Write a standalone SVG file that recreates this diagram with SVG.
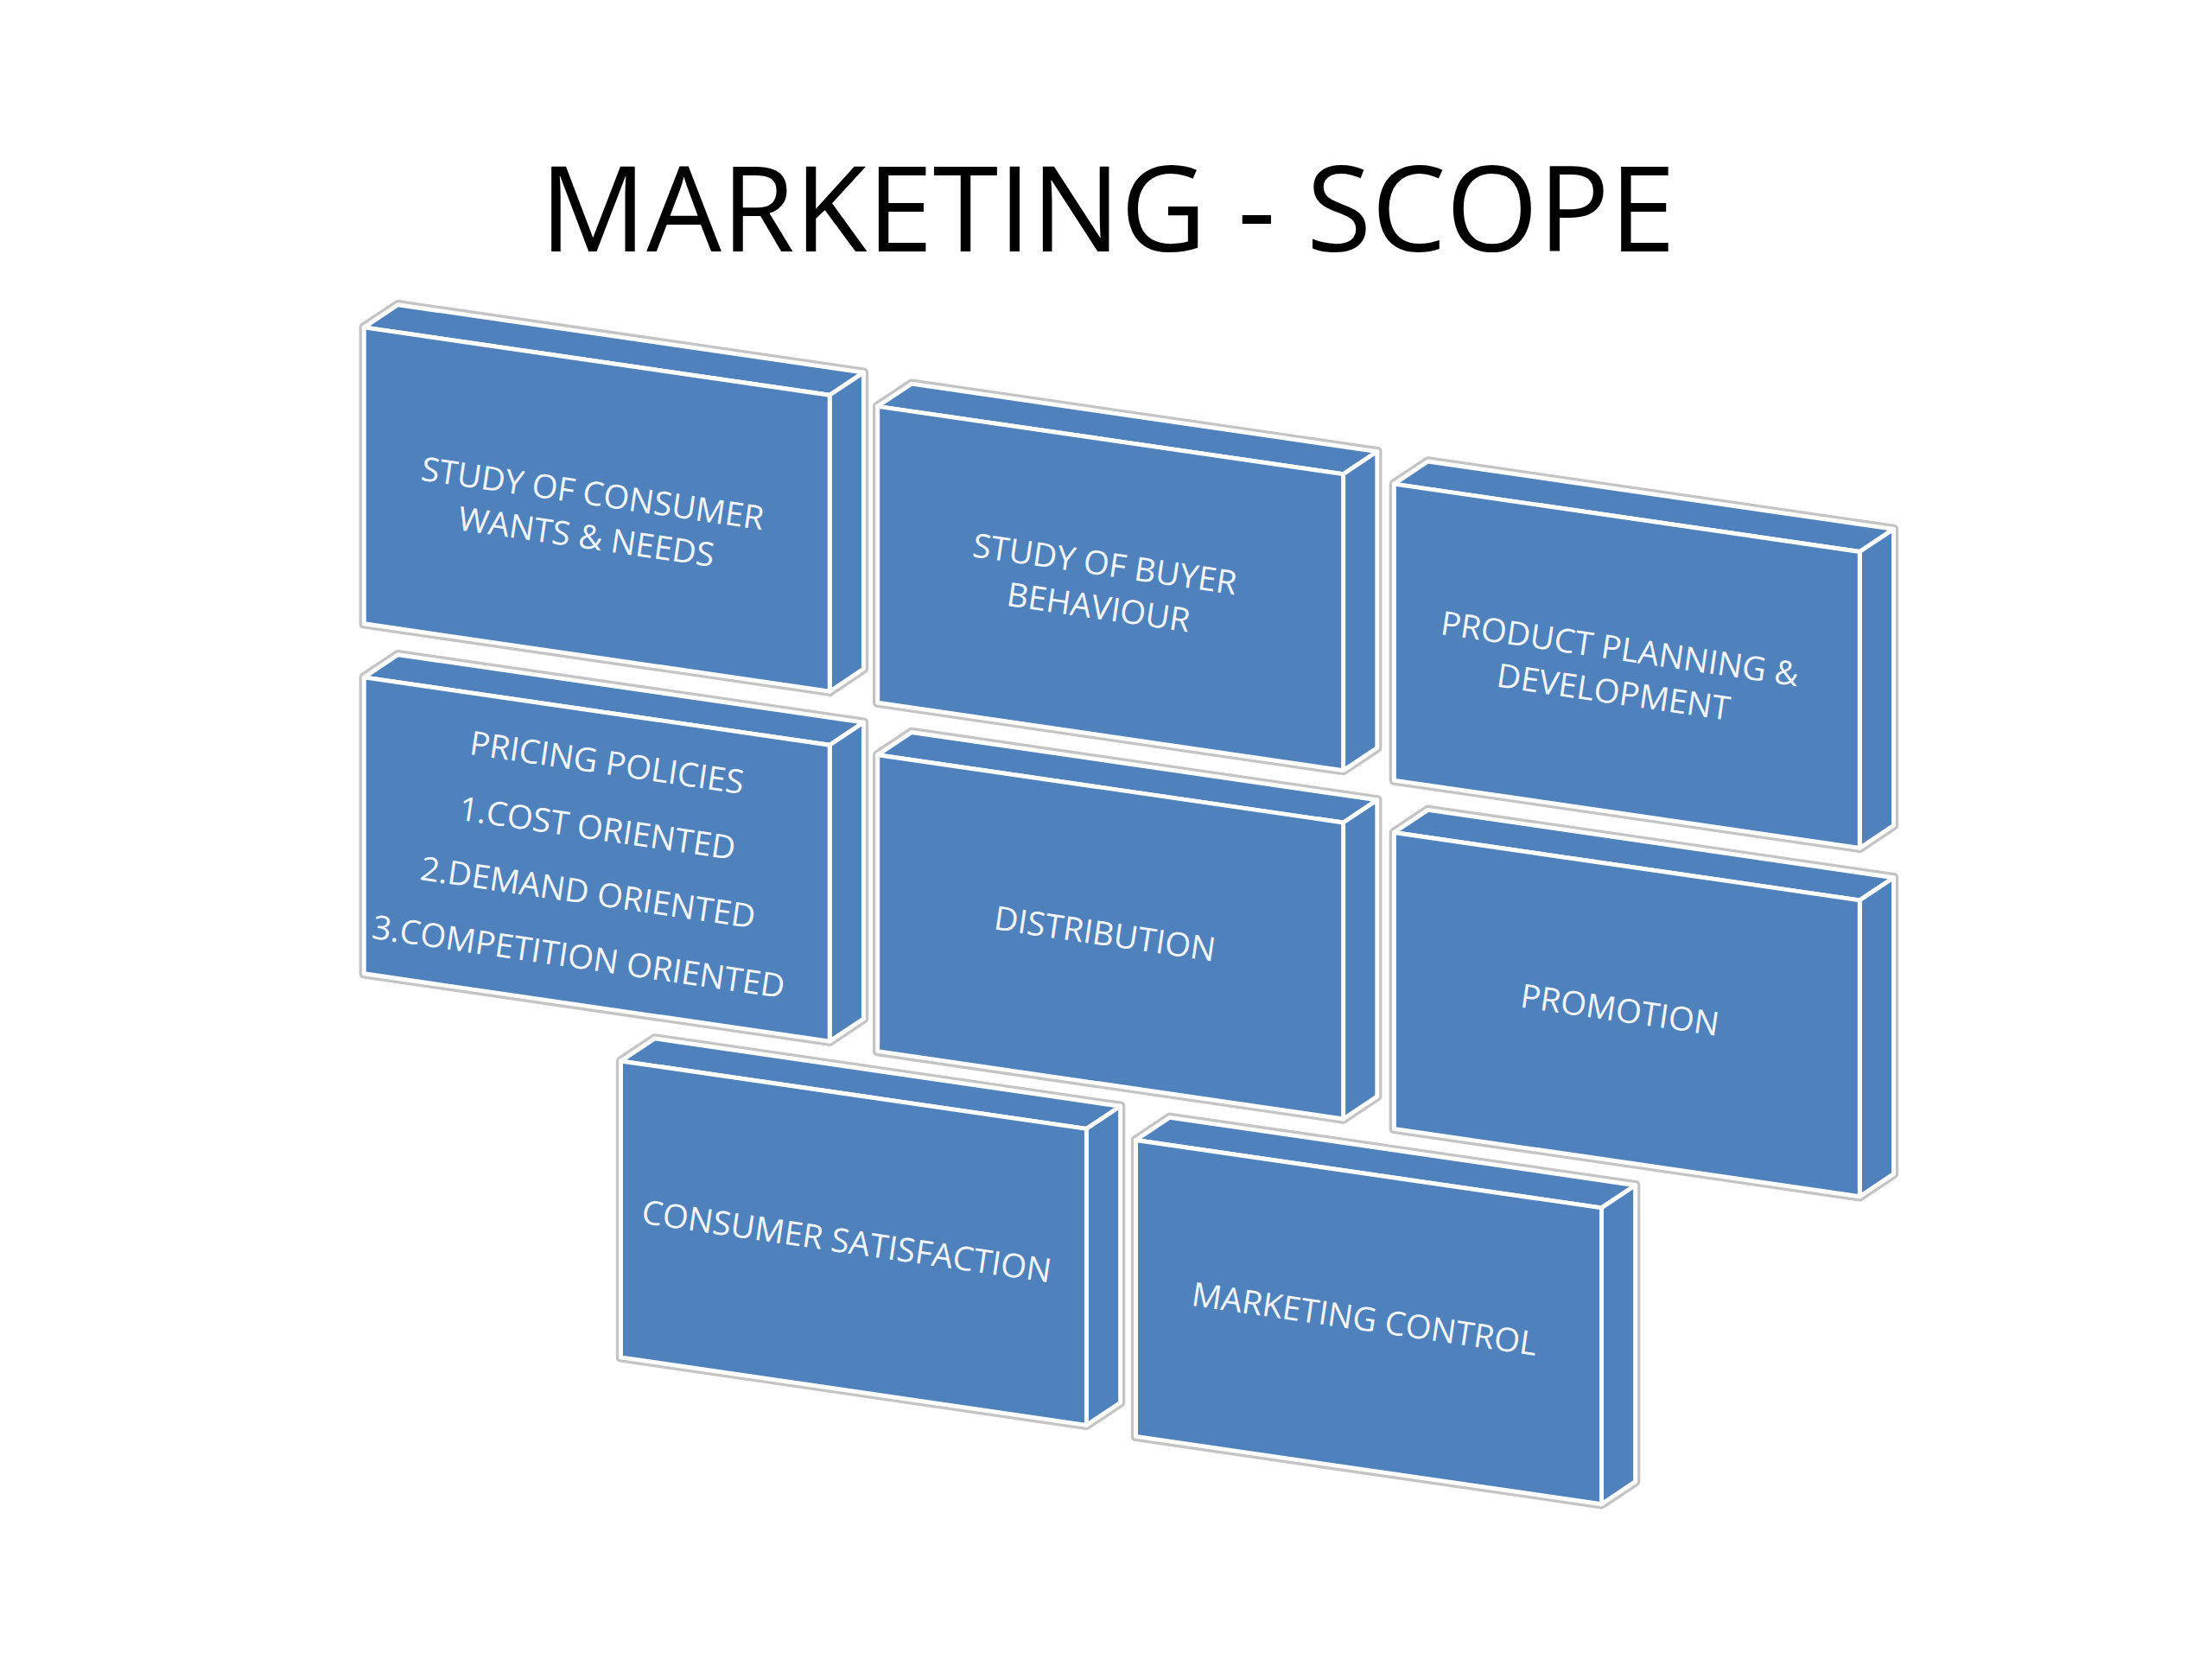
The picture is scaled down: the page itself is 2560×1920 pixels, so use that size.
<svg xmlns="http://www.w3.org/2000/svg" width="2560" height="1920" viewBox="0 0 2560 1920">
<style>
.f{fill:#4f81bd;stroke:#fff;stroke-width:3;stroke-linejoin:round}
.o{fill:none;stroke:#c4c4c4;stroke-width:7;stroke-linejoin:round}
.t{font-family:"Open Sans",sans-serif;font-size:23.5px;fill:#f2f5fa;text-anchor:middle}
</style>
<defs>
<g id="box">
<path class="o" d="M0,0 L24,-16 L354,32 L354,242 L330,258 L0,210 Z"/>
<path class="f" d="M0,0 L24,-16 L354,32 L330,48 Z"/>
<path class="f" d="M330,48 L354,32 L354,242 L330,258 Z"/>
<path class="f" d="M0,0 L330,48 L330,258 L0,210 Z"/>
</g>
</defs>
<rect width="2560" height="1920" fill="#fff"/>
<g transform="scale(1.633)">
<text x="785" y="178" font-family="Open Sans, sans-serif" font-size="84" text-anchor="middle" fill="#000">MARKETING - SCOPE</text>
<g id="n1" transform="translate(258,232)"><use href="#box"/><text class="t" transform="rotate(8.3 162 118)"><tspan x="162" y="126">STUDY OF CONSUMER</tspan><tspan x="162" y="157">WANTS &amp; NEEDS</tspan></text></g>
<g id="n2" transform="translate(622,288)"><use href="#box"/><text class="t" transform="rotate(8.3 161 112)"><tspan x="161" y="120">STUDY OF BUYER</tspan><tspan x="161" y="151">BEHAVIOUR</tspan></text></g>
<g id="n3" transform="translate(988,343)"><use href="#box"/><text class="t" transform="rotate(8.3 160 117)"><tspan x="160" y="125">PRODUCT PLANNING &amp;</tspan><tspan x="160" y="156">DEVELOPMENT</tspan></text></g>
<g id="n4" transform="translate(258,480)"><use href="#box"/><text class="t" transform="rotate(8.3 162 130)"><tspan x="162" y="68">PRICING POLICIES</tspan><tspan x="162" y="115">1.COST ORIENTED</tspan><tspan x="162" y="161">2.DEMAND ORIENTED</tspan><tspan x="162" y="207">3.COMPETITION ORIENTED</tspan></text></g>
<g id="n5" transform="translate(622,535)"><use href="#box"/><text class="t" transform="rotate(8.3 161 127)" x="161" y="135">DISTRIBUTION</text></g>
<g id="n6" transform="translate(988,590)"><use href="#box"/><text class="t" transform="rotate(8.3 160 126)" x="160" y="134">PROMOTION</text></g>
<g id="n7" transform="translate(440,752)"><use href="#box"/><text class="t" transform="rotate(8.3 160 128)" x="160" y="136">CONSUMER SATISFACTION</text></g>
<g id="n8" transform="translate(805,808)"><use href="#box"/><text class="t" transform="rotate(8.3 162 127)" x="162" y="135">MARKETING CONTROL</text></g>
<g id="connectors"/>
</g>
</svg>
